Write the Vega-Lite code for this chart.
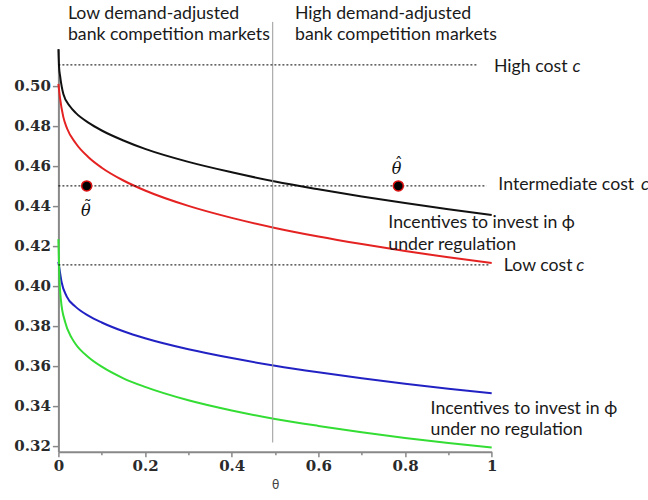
{
  "$schema": "https://vega.github.io/schema/vega-lite/v6.json",
  "width": 433.3,
  "height": 402.6,
  "autosize": {"type": "none"},
  "padding": {"left": 58.4, "top": 49.1, "right": 156.3, "bottom": 48.3},
  "background": "white",
  "config": {"view": {"stroke": null}, "axis": {"grid": false}},
  "datasets": {
    "curves": [
      {"s": "black", "x": 0, "y": 0.5184},
      {"s": "black", "x": 0.0015, "y": 0.5095},
      {"s": "black", "x": 0.0039, "y": 0.505},
      {"s": "black", "x": 0.0116, "y": 0.4958},
      {"s": "black", "x": 0.027, "y": 0.4897},
      {"s": "black", "x": 0.04, "y": 0.4865},
      {"s": "black", "x": 0.07, "y": 0.4815},
      {"s": "black", "x": 0.1, "y": 0.4777},
      {"s": "black", "x": 0.15, "y": 0.4727},
      {"s": "black", "x": 0.2, "y": 0.4685},
      {"s": "black", "x": 0.3, "y": 0.4620},
      {"s": "black", "x": 0.4, "y": 0.4568},
      {"s": "black", "x": 0.5, "y": 0.4522},
      {"s": "black", "x": 0.6, "y": 0.4483},
      {"s": "black", "x": 0.7, "y": 0.4447},
      {"s": "black", "x": 0.8, "y": 0.4414},
      {"s": "black", "x": 0.9, "y": 0.4383},
      {"s": "black", "x": 1.0, "y": 0.4355},
      {"s": "red", "x": 0, "y": 0.501},
      {"s": "red", "x": 0.0037, "y": 0.494},
      {"s": "red", "x": 0.0113, "y": 0.4845},
      {"s": "red", "x": 0.02, "y": 0.4787},
      {"s": "red", "x": 0.04, "y": 0.4713},
      {"s": "red", "x": 0.07, "y": 0.4642},
      {"s": "red", "x": 0.1, "y": 0.4591},
      {"s": "red", "x": 0.15, "y": 0.4527},
      {"s": "red", "x": 0.2, "y": 0.4477},
      {"s": "red", "x": 0.3, "y": 0.4400},
      {"s": "red", "x": 0.4, "y": 0.4340},
      {"s": "red", "x": 0.5, "y": 0.4290},
      {"s": "red", "x": 0.6, "y": 0.4247},
      {"s": "red", "x": 0.7, "y": 0.4209},
      {"s": "red", "x": 0.8, "y": 0.4174},
      {"s": "red", "x": 0.9, "y": 0.4143},
      {"s": "red", "x": 1.0, "y": 0.4114},
      {"s": "blue", "x": 0, "y": 0.412},
      {"s": "blue", "x": 0.002, "y": 0.4092},
      {"s": "blue", "x": 0.0076, "y": 0.4017},
      {"s": "blue", "x": 0.019, "y": 0.3948},
      {"s": "blue", "x": 0.04, "y": 0.3895},
      {"s": "blue", "x": 0.07, "y": 0.3850},
      {"s": "blue", "x": 0.1, "y": 0.3817},
      {"s": "blue", "x": 0.15, "y": 0.3773},
      {"s": "blue", "x": 0.2, "y": 0.3738},
      {"s": "blue", "x": 0.3, "y": 0.3683},
      {"s": "blue", "x": 0.4, "y": 0.3639},
      {"s": "blue", "x": 0.5, "y": 0.3601},
      {"s": "blue", "x": 0.6, "y": 0.3568},
      {"s": "blue", "x": 0.7, "y": 0.3538},
      {"s": "blue", "x": 0.8, "y": 0.3511},
      {"s": "blue", "x": 0.9, "y": 0.3486},
      {"s": "blue", "x": 1.0, "y": 0.3463},
      {"s": "green", "x": 0, "y": 0.4233},
      {"s": "green", "x": 0.002, "y": 0.4058},
      {"s": "green", "x": 0.006, "y": 0.3925},
      {"s": "green", "x": 0.0152, "y": 0.3822},
      {"s": "green", "x": 0.0307, "y": 0.3740},
      {"s": "green", "x": 0.04, "y": 0.3708},
      {"s": "green", "x": 0.07, "y": 0.3642},
      {"s": "green", "x": 0.1, "y": 0.3596},
      {"s": "green", "x": 0.15, "y": 0.3538},
      {"s": "green", "x": 0.2, "y": 0.3495},
      {"s": "green", "x": 0.3, "y": 0.3428},
      {"s": "green", "x": 0.4, "y": 0.3377},
      {"s": "green", "x": 0.5, "y": 0.3335},
      {"s": "green", "x": 0.6, "y": 0.3300},
      {"s": "green", "x": 0.7, "y": 0.3268},
      {"s": "green", "x": 0.8, "y": 0.3240},
      {"s": "green", "x": 0.9, "y": 0.3215},
      {"s": "green", "x": 1.0, "y": 0.3192}
    ],
    "vline": [{"x": 0.4946, "y": 0.3217, "y2": 0.532}],
    "costs": [
      {"x": 0, "x2": 0.969, "y": 0.5105},
      {"x": 0, "x2": 0.988, "y": 0.4500},
      {"x": 0, "x2": 0.996, "y": 0.4105}
    ],
    "dots": [
      {"x": 0.0653, "y": 0.45},
      {"x": 0.7845, "y": 0.45}
    ],
    "notes": [
      {"x": 0.022, "y": 0.5332, "t": "Low demand-adjusted"},
      {"x": 0.022, "y": 0.5229, "t": "bank competition markets"},
      {"x": 0.546, "y": 0.5332, "t": "High demand-adjusted"},
      {"x": 0.546, "y": 0.5229, "t": "bank competition markets"},
      {"x": 1.0053, "y": 0.5072, "t": "High cost"},
      {"x": 1.0153, "y": 0.4479, "t": "Intermediate cost"},
      {"x": 1.028, "y": 0.4077, "t": "Low cost"},
      {"x": 0.7614, "y": 0.4292, "t": "Incentives to invest in \u03d5"},
      {"x": 0.7614, "y": 0.4179, "t": "under regulation"},
      {"x": 0.859, "y": 0.3362, "t": "Incentives to invest in \u03d5"},
      {"x": 0.859, "y": 0.3257, "t": "under no regulation"}
    ],
    "italics": [
      {"x": 1.1866, "y": 0.5072, "t": "c"},
      {"x": 1.3446, "y": 0.4479, "t": "c"},
      {"x": 1.195, "y": 0.4077, "t": "c"}
    ],
    "thetas": [
      {"x": 0.063, "y": 0.4349, "t": "\u03b8"},
      {"x": 0.7807, "y": 0.4562, "t": "\u03b8"}
    ],
    "accents": [
      {"x": 0.0675, "y": 0.43715, "t": "\u02dc"},
      {"x": 0.7852, "y": 0.45845, "t": "\u02c6"}
    ]
  },
  "layer": [
    {
      "data": {"name": "curves"},
      "mark": {"type": "line", "strokeWidth": 2, "interpolate": "monotone"},
      "encoding": {
        "x": {
          "field": "x", "type": "quantitative",
          "scale": {"domain": [0, 1], "nice": false, "zero": false},
          "axis": {
            "title": "θ",
            "values": [0, 0.1, 0.2, 0.3, 0.4, 0.5, 0.6, 0.7, 0.8, 0.9, 1],
            "labelExpr": "round(datum.value*10) % 2 == 0 ? (datum.value == 0 ? '0' : (datum.value == 1 ? '1' : format(datum.value, '.1f'))) : ''",
            "labelFlush": false,
            "labelOverlap": false,
            "labelBound": false,
            "labelFont": "DejaVu Serif",
            "labelFontSize": 15,
            "labelFontWeight": "bold",
            "labelColor": "#2a2a2a",
            "labelPadding": 2,
            "domainColor": "#888888",
            "domainWidth": 2,
            "tickColor": "#888888",
            "tickWidth": 1.5,
            "tickSize": {"condition": {"test": "round(datum.value*10) % 2 == 0", "value": 5}, "value": 3},
            "titleFont": "DejaVu Sans",
            "titleFontSize": 12,
            "titleFontWeight": "normal",
            "titleColor": "#444444",
            "titlePadding": 6
          }
        },
        "y": {
          "field": "y", "type": "quantitative",
          "scale": {"domain": [0.3171, 0.5184], "nice": false, "zero": false},
          "axis": {
            "title": null,
            "values": [0.32, 0.33, 0.34, 0.35, 0.36, 0.37, 0.38, 0.39, 0.40, 0.41, 0.42, 0.43, 0.44, 0.45, 0.46, 0.47, 0.48, 0.49, 0.50, 0.51],
            "labelExpr": "round(datum.value*100) % 2 == 0 ? format(datum.value, '.2f') : ''",
            "labelFlush": false,
            "labelOverlap": false,
            "labelBound": false,
            "labelFont": "DejaVu Serif",
            "labelFontSize": 15,
            "labelFontWeight": "bold",
            "labelColor": "#2a2a2a",
            "labelPadding": 2,
            "domainColor": "#888888",
            "domainWidth": 2,
            "tickColor": "#888888",
            "tickWidth": 1.5,
            "tickSize": {"condition": {"test": "round(datum.value*100) % 2 == 0", "value": 6}, "value": 4}
          }
        },
        "color": {
          "field": "s", "type": "nominal",
          "scale": {"domain": ["black", "red", "blue", "green"], "range": ["#111111", "#e52222", "#2222c4", "#33dd33"]},
          "legend": null
        }
      }
    },
    {
      "data": {"name": "vline"},
      "mark": {"type": "rule", "color": "#9a9a9a", "strokeWidth": 1},
      "encoding": {
        "x": {"field": "x", "type": "quantitative"},
        "y": {"field": "y", "type": "quantitative"},
        "y2": {"field": "y2"}
      }
    },
    {
      "data": {"name": "costs"},
      "mark": {"type": "rule", "color": "#000000", "strokeWidth": 1, "strokeDash": [2, 2]},
      "encoding": {
        "x": {"field": "x", "type": "quantitative"},
        "x2": {"field": "x2"},
        "y": {"field": "y", "type": "quantitative"}
      }
    },
    {
      "data": {"name": "dots"},
      "mark": {"type": "point", "shape": "circle", "filled": true, "fill": "#000000", "stroke": "#dd1111", "strokeWidth": 1.5, "size": 100, "opacity": 1},
      "encoding": {
        "x": {"field": "x", "type": "quantitative"},
        "y": {"field": "y", "type": "quantitative"}
      }
    },
    {
      "data": {"name": "notes"},
      "mark": {"type": "text", "font": "Lato", "fontSize": 17.7, "align": "left", "baseline": "alphabetic", "color": "#1a1a1a"},
      "encoding": {
        "x": {"field": "x", "type": "quantitative"},
        "y": {"field": "y", "type": "quantitative"},
        "text": {"field": "t", "type": "nominal"}
      }
    },
    {
      "data": {"name": "italics"},
      "mark": {"type": "text", "font": "Lato", "fontSize": 17.7, "fontStyle": "italic", "align": "left", "baseline": "alphabetic", "color": "#1a1a1a"},
      "encoding": {
        "x": {"field": "x", "type": "quantitative"},
        "y": {"field": "y", "type": "quantitative"},
        "text": {"field": "t", "type": "nominal"}
      }
    },
    {
      "data": {"name": "thetas"},
      "mark": {"type": "text", "font": "DejaVu Serif", "fontSize": 16, "fontStyle": "italic", "align": "center", "baseline": "alphabetic", "color": "#111111"},
      "encoding": {
        "x": {"field": "x", "type": "quantitative"},
        "y": {"field": "y", "type": "quantitative"},
        "text": {"field": "t", "type": "nominal"}
      }
    },
    {
      "data": {"name": "accents"},
      "mark": {"type": "text", "font": "DejaVu Serif", "fontSize": 16, "align": "center", "baseline": "alphabetic", "color": "#111111"},
      "encoding": {
        "x": {"field": "x", "type": "quantitative"},
        "y": {"field": "y", "type": "quantitative"},
        "text": {"field": "t", "type": "nominal"}
      }
    }
  ]
}
